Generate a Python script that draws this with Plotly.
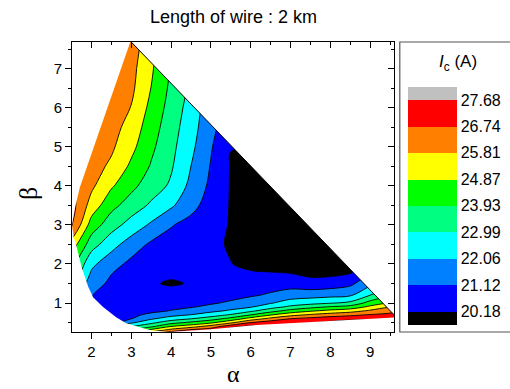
import plotly.graph_objects as go

# ---------------- data ----------------
alpha = [1.5, 2.0, 2.5, 3.0, 3.5, 4.0, 4.5, 5.0, 5.5, 6.0, 6.5, 7.0, 7.5, 8.0, 8.5, 9.0, 9.5, 10.0]
beta = [0.2, 0.3, 0.4, 0.5, 0.6, 0.7, 0.8, 0.9, 1.0, 1.2, 1.5, 1.8, 2.0,
        2.5, 3.0, 3.5, 4.0, 4.5, 5.0, 5.5, 6.0, 6.5, 7.0, 7.5, 8.0]

# critical current Ic (A), one list per alpha column, values listed along beta
ic_by_alpha = [
    [26.0, 25.2, 24.5, 23.9, 23.4, 23.0, 22.7, 22.5, 22.3, 22.4, 22.96, 23.9, 24.29, 25.43, 26.9, 27.1, 26.87, 27.0, 27.1, 27.2, 27.3, 27.4, 27.5, 27.6, 27.65],
    [25.0, 24.0, 23.2, 22.6, 22.1, 21.7, 21.4, 21.2, 21.1, 21.15, 21.67, 21.98, 22.26, 23.4, 24.45, 25.42, 25.99, 26.2, 26.4, 26.6, 26.75, 26.9, 27.05, 27.2, 27.35],
    [25.5, 24.0, 22.5, 21.05, 21.0, 20.97, 20.93, 20.85, 20.75, 20.65, 20.85, 21.2, 21.5, 22.39, 23.39, 24.21, 24.99, 25.63, 25.96, 26.18, 26.39, 26.6, 26.8, 27.0, 27.2],
    [25.5, 24.2, 23.0, 21.9, 21.1, 20.95, 20.8, 20.7, 20.6, 20.45, 20.4, 20.6, 20.87, 21.62, 22.62, 23.5, 24.17, 24.69, 25.12, 25.43, 25.77, 26.0, 26.1, 26.25, 26.4],
    [27.0, 25.25, 23.76, 22.76, 21.92, 21.28, 20.95, 20.78, 20.65, 20.45, 20.25, 20.4, 20.5, 20.95, 21.91, 22.84, 23.45, 23.85, 24.12, 24.36, 24.6, 24.85, 25.0, 25.15, 25.3],
    [28.0, 26.25, 24.9, 23.58, 22.51, 21.75, 21.15, 20.95, 20.8, 20.5, 20.10, 20.35, 20.45, 20.75, 21.18, 22.2, 22.85, 23.1, 23.25, 23.4, 23.57, 23.72, 23.85, 23.95, 24.05],
    [29.0, 27.1, 25.42, 24.13, 22.96, 22.07, 21.54, 21.05, 20.85, 20.55, 20.23, 20.3, 20.35, 20.5, 20.82, 21.4, 21.8, 22.05, 22.28, 22.45, 22.6, 22.8, 23.0, 23.2, 23.4],
    [29.5, 27.42, 26.24, 24.69, 23.49, 22.52, 21.83, 21.36, 21.0, 20.7, 20.35, 20.25, 20.25, 20.35, 20.5, 20.72, 20.92, 21.06, 21.2, 21.38, 21.5, 21.6, 21.7, 21.8, 21.9],
    [30.0, 28.4, 27.35, 25.63, 24.24, 23.08, 22.2, 21.71, 21.29, 20.75, 20.35, 20.2, 20.2, 20.1, 20.12, 20.12, 20.12, 20.12, 20.2, 20.5, 20.7, 20.85, 21.0, 21.1, 21.2],
    [30.5, 29.5, 27.9, 26.75, 25.25, 23.9, 22.8, 22.0, 21.65, 21.0, 20.5, 20.22, 20.0, 19.95, 19.95, 19.95, 19.97, 20.05, 20.2, 20.4, 20.55, 20.7, 20.8, 20.9, 21.0],
    [31.0, 30.0, 27.6, 27.3, 26.07, 24.78, 23.56, 22.64, 21.99, 21.26, 20.65, 20.17, 19.9, 19.8, 19.8, 19.85, 19.95, 20.1, 20.3, 20.45, 20.6, 20.7, 20.8, 20.9, 21.0],
    [31.0, 30.0, 27.9, 27.4, 26.75, 25.46, 24.28, 23.2, 22.49, 21.59, 20.7, 20.1, 19.85, 19.75, 19.75, 19.85, 20.0, 20.2, 20.35, 20.5, 20.6, 20.7, 20.8, 20.9, 21.0],
    [31.0, 30.0, 28.5, 27.6, 27.03, 25.91, 24.75, 23.65, 22.71, 21.68, 20.5, 19.9, 19.8, 19.75, 19.8, 20.0, 20.15, 20.3, 20.4, 20.5, 20.6, 20.7, 20.8, 20.9, 21.0],
    [31.0, 30.0, 29.0, 27.85, 27.32, 26.24, 25.13, 24.04, 22.94, 21.79, 20.6, 19.9, 19.85, 19.95, 20.1, 20.25, 20.35, 20.45, 20.55, 20.65, 20.75, 20.85, 20.95, 21.0, 21.0],
    [31.0, 30.0, 29.3, 28.3, 27.35, 26.54, 25.43, 24.31, 23.23, 21.93, 20.9, 20.05, 20.0, 20.15, 20.3, 20.4, 20.5, 20.6, 20.7, 20.8, 20.9, 21.0, 21.0, 21.0, 21.0],
    [31.0, 30.0, 29.5, 28.3, 27.5, 26.8, 25.97, 25.1, 24.31, 23.0, 21.81, 21.0, 20.6, 20.3, 20.3, 20.4, 20.5, 20.6, 20.7, 20.8, 20.9, 21.0, 21.0, 21.0, 21.0],
    [30.5, 30.0, 29.5, 28.8, 27.6, 27.0, 26.4, 25.8, 25.0, 23.8, 22.6, 21.7, 21.2, 20.6, 20.5, 20.5, 20.6, 20.7, 20.8, 20.9, 21.0, 21.0, 21.0, 21.0, 21.0],
    [31.0, 30.5, 30.0, 29.2, 28.2, 27.5, 26.9, 26.2, 25.5, 24.3, 23.0, 22.0, 21.5, 20.8, 20.6, 20.6, 20.7, 20.8, 20.9, 21.0, 21.0, 21.0, 21.0, 21.0, 21.0],
]

# contour levels and legend labels
levels = [20.18, 21.12, 22.06, 22.99, 23.93, 24.87, 25.81, 26.74, 27.68]
level_labels = ["20.18", "21.12", "22.06", "22.99", "23.93", "24.87", "25.81", "26.74", "27.68"]
band_colors = ["#000000", "#0000FF", "#0080FF", "#00FFFF", "#00FF80",
               "#00FF00", "#FFFF00", "#FF8000", "#FF0000", "#C0C0C0"]

# boundary of the computed (alpha, beta) domain
apex = (2.98, 7.70)
right_tip = (9.62, 0.68)
upper_left_alpha = [2.98, 2.6, 2.2, 1.95, 1.71, 1.6, 1.51]
upper_left_beta = [7.70, 6.57, 5.4, 4.67, 3.97, 3.5, 3.0]
lower_curve_alpha = [1.51, 1.55, 1.63, 1.75, 1.92, 2.04, 2.29, 2.62, 2.86, 3.19, 3.52, 3.93]
lower_curve_beta = [3.0, 2.7, 2.43, 1.92, 1.41, 1.15, 0.90, 0.64, 0.49, 0.39, 0.30, 0.26]
bottom_alpha = [5.0, 6.15, 7.5, 8.6, 9.62]
bottom_beta = [0.33, 0.44, 0.52, 0.58, 0.63]

x_range = [1.51, 9.6]
y_range = [0.26, 7.68]

# ---------------- figure ----------------
z_rows = [list(r) for r in zip(*ic_by_alpha)]
nb = len(band_colors)
colorscale = [[i / (nb - 1), c] for i, c in enumerate(band_colors)]
step = (levels[-1] - levels[0]) / (len(levels) - 1)

fig = go.Figure()

fig.add_trace(go.Contour(
    x=alpha, y=beta, z=z_rows,
    colorscale=colorscale,
    contours=dict(start=levels[0], end=levels[-1], size=step, coloring="fill", showlines=False),
    line=dict(width=0),
    colorbar=dict(
        tickvals=levels, ticktext=level_labels,
        x=1.045, xanchor="left", xpad=0,
        y=0.435, yanchor="middle", len=0.82, lenmode="fraction", ypad=0,
        thickness=49, thicknessmode="pixels",
        outlinewidth=0, ticks="", ticklen=0,
        tickfont=dict(family="Liberation Sans, Arial", size=16, color="black"),
    ),
    hoverinfo="skip",
))

fig.add_trace(go.Contour(
    x=alpha, y=beta, z=z_rows,
    contours=dict(start=levels[0], end=levels[-1], size=step, coloring="none"),
    line=dict(color="black", width=0.9, smoothing=1),
    showscale=False, hoverinfo="skip",
))

far_l, far_r, far_b, far_t = 0.5, 11.0, -1.0, 9.0
mask_b_x = upper_left_alpha + lower_curve_alpha + bottom_alpha + [far_r, far_r, far_l, far_l, apex[0]]
mask_b_y = upper_left_beta + lower_curve_beta + bottom_beta + [bottom_beta[-1], far_b, far_b, far_t, far_t]
fig.add_trace(go.Scatter(x=mask_b_x, y=mask_b_y, fill="toself", fillcolor="white",
                         line=dict(width=0, color="white"), mode="lines",
                         showlegend=False, hoverinfo="skip"))
mask_a_x = [apex[0], right_tip[0], far_r, far_r, apex[0]]
mask_a_y = [apex[1], right_tip[1], right_tip[1], far_t, far_t]
fig.add_trace(go.Scatter(x=mask_a_x, y=mask_a_y, fill="toself", fillcolor="white",
                         line=dict(width=0, color="white"), mode="lines",
                         showlegend=False, hoverinfo="skip"))
fig.add_trace(go.Scatter(x=[apex[0], right_tip[0]], y=[apex[1], right_tip[1]],
                         mode="lines", line=dict(color="black", width=1),
                         showlegend=False, hoverinfo="skip"))
# dummy trace for mirrored axes
fig.add_trace(go.Scatter(x=[None], y=[None], xaxis="x2", yaxis="y2",
                         showlegend=False, hoverinfo="skip"))

tick_font = dict(family="Liberation Sans, Arial", size=15, color="black")
common = dict(showline=True, linecolor="black", linewidth=1, showgrid=False,
              zeroline=False, tickmode="linear", tick0=0, dtick=1,
              tickcolor="black", tickwidth=1)

fig.update_layout(
    width=510, height=389,
    margin=dict(l=72, r=110, t=42, b=57),
    paper_bgcolor="white", plot_bgcolor="white",
    showlegend=False,
    xaxis=dict(range=x_range, ticks="outside", ticklen=6, tickfont=tick_font,
               minor=dict(ticks="outside", ticklen=3, tick0=0, dtick=0.5, tickcolor="black"),
               **common),
    yaxis=dict(range=y_range, ticks="outside", ticklen=6, tickfont=tick_font,
               minor=dict(ticks="outside", ticklen=3, tick0=0, dtick=0.5, tickcolor="black"),
               **common),
    xaxis2=dict(range=x_range, overlaying="x", side="top", anchor="y2",
                ticks="inside", ticklen=6, showticklabels=False,
                minor=dict(ticks="inside", ticklen=3, tick0=0, dtick=0.5, tickcolor="black"),
                **common),
    yaxis2=dict(range=y_range, overlaying="y", side="right", anchor="x2",
                ticks="inside", ticklen=6, showticklabels=False,
                minor=dict(ticks="inside", ticklen=3, tick0=0, dtick=0.5, tickcolor="black"),
                **common),
    shapes=[dict(type="rect", xref="paper", yref="paper", x0=1.018, x1=1.6, y0=0, y1=1,
                 line=dict(color="#555555", width=1.2), fillcolor="rgba(0,0,0,0)")],
    annotations=[
        dict(text="Length of wire : 2 km", xref="paper", yref="paper", x=0.5, y=1.086,
             xanchor="center", yanchor="middle", showarrow=False,
             font=dict(family="Liberation Sans, Arial", size=18, color="black")),
        dict(text="α", xref="paper", yref="paper", x=0.5, y=-0.145,
             xanchor="center", yanchor="middle", showarrow=False,
             font=dict(family="Liberation Serif, Times New Roman", size=24, color="black")),
        dict(text="β", xref="paper", yref="paper", x=-0.137, y=0.479, textangle=-90,
             xanchor="center", yanchor="middle", showarrow=False,
             font=dict(family="Liberation Serif, Times New Roman", size=26, color="black")),
        dict(text="<i>I</i><sub>c</sub> (A)", xref="paper", yref="paper", x=1.2, y=0.928,
             xanchor="center", yanchor="middle", showarrow=False,
             font=dict(family="Liberation Sans, Arial", size=17, color="black")),
    ],
)

fig.write_html("out.html")
